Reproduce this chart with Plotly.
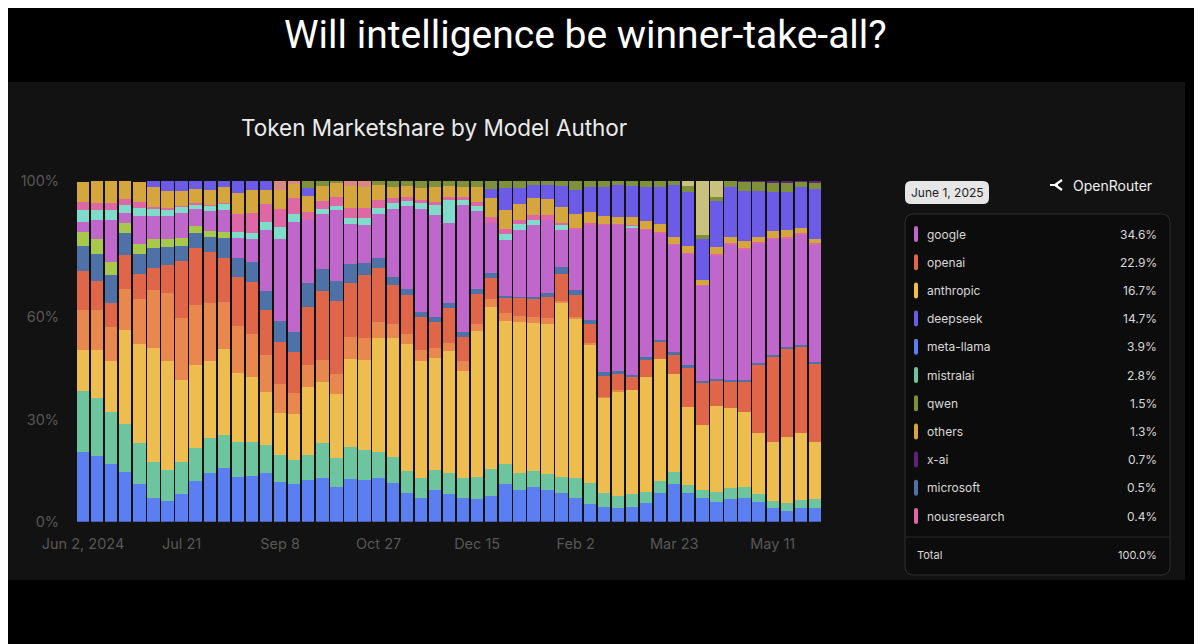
import plotly.graph_objects as go
import pandas as pd

# the page puts the figure 8px in from the top-left corner
PAGE_OFF = 8
W, H = 1202 - PAGE_OFF, 644 - PAGE_OFF

# weekly buckets, Jun 2 2024 .. Jun 1 2025
weeks = pd.date_range("2024-06-02", periods=53, freq="7D")
tick_labels = ["Jun 2, 2024", "Jul 21", "Sep 8", "Oct 27", "Dec 15", "Feb 2", "Mar 23", "May 11"]
y_ticks = [0, 30, 60, 100]

# token share per author (%), bottom of stack first
meta_llama = [20.4, 19.3, 16.8, 14.7, 11.0, 7.0, 6.1, 8.0, 11.9, 14.4, 15.9, 13.2, 13.4, 14.2, 11.7, 11.0, 12.2, 12.9,
              10.3, 12.5, 12.2, 12.7, 11.3, 8.3, 7.0, 9.3, 8.0, 7.0, 6.7, 7.5, 11.0, 9.3, 10.3, 9.3, 8.3, 7.0, 5.1, 4.4,
              4.1, 4.4, 5.4, 8.3, 11.0, 8.3, 7.0, 5.7, 6.7, 7.0, 5.7, 3.9, 3.1, 3.9, 3.9]
mistralai = [18.0, 17.1, 15.3, 13.9, 12.2, 10.4, 9.1, 9.4, 9.8, 10.3, 9.6, 10.3, 10.1, 8.3, 7.8, 7.1, 7.5, 10.1,
             8.5, 9.5, 8.8, 7.8, 7.8, 6.6, 5.7, 5.9, 6.2, 5.9, 6.3, 7.9, 5.9, 4.9, 4.6, 4.6, 4.9, 5.9, 6.2, 3.9,
             3.5, 3.6, 3.4, 3.6, 3.5, 2.6, 2.3, 2.9, 3.1, 3.2, 2.3, 2.2, 2.3, 2.4, 2.8]
anthropic = [12.0, 14.0, 15.2, 27.7, 28.9, 33.6, 31.9, 24.2, 24.3, 22.5, 25.2, 20.1, 19.1, 15.7, 12.5, 13.4, 19.9, 18.1,
             18.6, 25.9, 26.6, 33.5, 34.9, 37.2, 34.4, 32.8, 35.9, 31.3, 43.1, 47.7, 42.1, 44.3, 43.3, 44.0, 51.0, 46.8,
             40.8, 28.1, 30.7, 30.6, 33.8, 36.0, 28.8, 22.8, 19.1, 25.4, 23.7, 22.0, 17.9, 17.4, 19.6, 19.6, 16.7]
unlisted_orange = [11.7, 11.7, 9.8, 11.9, 13.3, 17.0, 19.9, 18.1, 17.6, 16.9, 13.9, 13.7, 12.4, 10.8, 8.5, 6.2, 6.4,
                   6.4, 5.9, 6.4, 6.2, 4.7, 3.9, 2.9, 3.2, 2.9, 2.3, 2.9, 1.8, 2.3, 2.3, 2.0, 2.0, 1.8, 0.6, 0.5, 0.3,
                   0.3, 0.3, 0, 0, 0, 0, 0, 0, 0, 0, 0, 0, 0, 0, 0, 0]
openai = [11.4, 8.5, 7.2, 10.1, 7.3, 6.5, 8.3, 16.8, 16.6, 15.2, 12.9, 14.4, 15.5, 13.2, 12.2, 12.0, 17.1, 20.1, 21.5,
          15.7, 18.6, 15.9, 11.5, 11.5, 9.8, 7.8, 10.3, 7.1, 8.8, 6.1, 4.6, 5.3, 5.4, 6.4, 7.8, 6.4, 5.7, 6.2, 4.7, 3.9,
          4.9, 4.9, 5.7, 11.7, 12.5, 7.5, 7.4, 8.8, 20.1, 25.0, 25.7, 25.4, 22.9]
microsoft = [7.3, 8.1, 8.1, 6.4, 5.8, 5.8, 5.4, 4.5, 4.4, 4.2, 5.7, 5.7, 5.7, 5.4, 6.1, 6.1, 7.1, 6.7, 5.9, 5.6, 3.4,
             2.7, 2.4, 1.7, 1.5, 1.5, 1.5, 1.5, 1.5, 1.5, 0.3, 0.3, 0.5, 1.0, 2.2, 1.3, 1.2, 1.0, 1.0, 0.7, 0.7, 0.5,
             0.7, 0.5, 0.4, 0.5, 0.7, 0.7, 0.5, 0.5, 0.5, 0.5, 0.5]
unlisted_lime = [4.1, 4.2, 3.7, 3.1, 3.0, 2.7, 2.2, 2.3, 2.3, 1.9, 1.8, 0, 0, 0, 0, 0, 0, 0, 0, 0, 0, 0, 0, 0, 0, 0,
                 0, 0, 0, 0, 0, 0, 0, 0, 0, 0, 0, 0, 0, 0, 0, 0, 0, 0, 0, 0, 0, 0, 0, 0, 0, 0, 0]
google = [3.2, 5.8, 12.6, 2.7, 8.2, 6.6, 6.8, 7.4, 4.8, 5.7, 6.6, 5.9, 6.8, 18.1, 24.1, 32.3, 18.3, 16.0, 20.8, 11.7,
          11.4, 12.9, 20.1, 24.6, 30.3, 29.8, 23.5, 37.2, 23.0, 14.7, 16.6, 19.6, 21.0, 21.5, 10.8, 17.8, 27.8, 43.3,
          42.9, 43.2, 37.5, 31.3, 31.6, 32.8, 27.9, 36.2, 39.8, 38.3, 35.2, 34.1, 32.0, 32.5, 34.6]
unlisted_cyan = [3.4, 2.9, 2.9, 2.6, 2.4, 2.3, 1.8, 1.7, 1.5, 1.7, 1.7, 1.8, 1.7, 2.4, 3.6, 2.2, 0, 1.5, 1.3, 1.8,
                 2.0, 1.8, 1.5, 1.4, 1.5, 2.9, 6.6, 1.5, 1.5, 0, 1.5, 1.7, 1.5, 0, 1.5, 0, 0, 0, 0, 0.4, 0, 0, 0, 0,
                 0, 0, 0, 0, 0, 0, 0, 0, 0]
nousresearch = [2.4, 2.0, 2.0, 1.5, 1.8, 0.5, 0.5, 0.3, 0.3, 0.3, 0.3, 5.1, 5.9, 5.1, 5.4, 4.7, 2.4, 2.4, 2.6, 3.1,
                2.9, 2.4, 1.5, 1.0, 1.0, 1.0, 1.0, 1.0, 1.0, 1.7, 1.5, 1.3, 1.5, 1.5, 0.5, 0.5, 0.5, 0.3, 0.3, 0.3,
                0.3, 0.3, 0.3, 0.3, 0.3, 0.3, 0.3, 0.3, 0.3, 0.3, 0.3, 0.3, 0.4]
others = [5.9, 6.4, 6.4, 5.4, 5.9, 5.9, 5.1, 4.4, 4.2, 4.2, 4.5, 6.4, 6.8, 4.2, 5.4, 4.1, 4.7, 4.2, 3.9, 6.2, 6.2,
          4.4, 3.4, 3.2, 3.6, 4.4, 3.2, 2.9, 4.4, 5.5, 5.6, 4.6, 4.9, 4.7, 4.9, 4.1, 3.2, 2.3, 2.0, 2.4, 2.4, 2.4,
          2.0, 2.0, 1.5, 2.2, 2.0, 2.2, 1.7, 2.0, 2.0, 1.6, 1.3]
deepseek = [0, 0, 0, 0, 0, 1.7, 2.9, 3.1, 2.6, 3.1, 2.3, 3.6, 2.6, 2.6, 0, 0, 2.3, 0, 0, 0, 0, 0, 0, 0, 0, 0, 0, 0,
            0, 2.9, 6.5, 4.7, 3.9, 4.1, 5.9, 7.1, 7.5, 8.5, 9.3, 9.1, 9.8, 10.8, 15.2, 15.7, 12.0, 13.3, 14.5, 14.5,
            13.3, 11.4, 11.3, 12.1, 14.7]
unlisted_salmon = [0, 0, 0, 0, 0, 0, 0, 0, 0, 0, 0, 0, 0, 0, 2.6, 1.0, 0, 0, 0, 1.7, 1.7, 0, 0, 0, 0, 0, 0, 0, 0, 0,
                   0, 0, 0, 0, 0, 0, 0, 0, 0, 0, 0, 0, 0, 0, 0, 0, 0, 0, 0, 0, 0, 0, 0]
qwen = [0, 0, 0, 0, 0, 0, 0, 0, 0, 0, 0, 0, 0, 0, 0, 0, 2.0, 1.7, 0.7, 0, 0, 1.2, 1.7, 1.7, 2.0, 1.7, 1.7, 1.7, 2.2,
        2.3, 2.3, 2.2, 1.2, 1.2, 1.7, 2.6, 1.7, 1.7, 1.2, 1.7, 2.2, 2.2, 1.7, 1.7, 1.2, 1.4, 2.0, 2.9, 2.9, 2.9, 2.9,
        1.6, 1.5]
unlisted_khaki = [0, 0, 0, 0, 0, 0, 0, 0, 0, 0, 0, 0, 0, 0, 0, 0, 0, 0, 0, 0, 0, 0, 0, 0, 0, 0, 0, 0, 0, 0, 0, 0,
                  0, 0, 0, 0, 0, 0, 0, 0, 0, 0, 0, 2.0, 16.1, 4.9, 0, 0, 0, 0, 0, 0, 0]
x_ai = [0, 0, 0, 0, 0, 0, 0, 0, 0, 0, 0, 0, 0, 0, 0, 0, 0, 0, 0, 0, 0, 0, 0, 0, 0, 0, 0, 0, 0, 0, 0, 0, 0, 0, 0, 0,
        0, 0, 0, 0, 0, 0, 0, 0, 0, 0, 0.3, 0.4, 0.4, 0.5, 0.5, 0.4, 0.7]

# stack order (bottom -> top): name, values, colour, shown in the side panel
stack = [
    ("meta-llama", meta_llama, "#5b7ff0", True),
    ("mistralai", mistralai, "#6cc59e", True),
    ("anthropic", anthropic, "#eebd4f", True),
    ("unlisted (orange)", unlisted_orange, "#e8884f", False),
    ("openai", openai, "#e0664a", True),
    ("microsoft", microsoft, "#4e72a8", True),
    ("unlisted (lime)", unlisted_lime, "#a8c84c", False),
    ("google", google, "#c067cb", True),
    ("unlisted (cyan)", unlisted_cyan, "#7fdbca", False),
    ("nousresearch", nousresearch, "#de68a6", True),
    ("others", others, "#d4a63d", True),
    ("deepseek", deepseek, "#6b5be6", True),
    ("unlisted (salmon)", unlisted_salmon, "#d98984", False),
    ("qwen", qwen, "#7e913a", True),
    ("unlisted (khaki)", unlisted_khaki, "#c8c27d", False),
    ("x-ai", x_ai, "#5c2379", True),
]

fig = go.Figure()
for name, vals, color, _ in stack:
    fig.add_trace(go.Bar(x=weeks, y=vals, name=name, marker_color=color,
                         marker_line_width=0, showlegend=False))


# screen pixel -> paper fraction
def px(x):
    return (x - PAGE_OFF) / W


def py(y):
    return 1 - (y - PAGE_OFF) / H


def rounded_rect(x0, y0, x1, y1, r):
    pts = [
        f"M {px(x0 + r)},{py(y0)}",
        f"L {px(x1 - r)},{py(y0)}",
        f"Q {px(x1)},{py(y0)} {px(x1)},{py(y0 + r)}",
        f"L {px(x1)},{py(y1 - r)}",
        f"Q {px(x1)},{py(y1)} {px(x1 - r)},{py(y1)}",
        f"L {px(x0 + r)},{py(y1)}",
        f"Q {px(x0)},{py(y1)} {px(x0)},{py(y1 - r)}",
        f"L {px(x0)},{py(y0 + r)}",
        f"Q {px(x0)},{py(y0)} {px(x0 + r)},{py(y0)}",
        "Z",
    ]
    return " ".join(pts)


def label(text, x, y, size, color, anchor="center", family="Inter"):
    return dict(text=text, x=px(x), y=py(y), xref="paper", yref="paper", xanchor=anchor, yanchor="middle",
                showarrow=False, font=dict(size=size, color=color, family=family))


shapes = []
annotations = []

# dark card behind the chart
shapes.append(dict(type="rect", xref="paper", yref="paper", x0=px(0), x1=px(1185), y0=py(580), y1=py(82),
                   fillcolor="#121212", line_width=0, layer="below"))

# side panel box
shapes.append(dict(type="path", xref="paper", yref="paper", path=rounded_rect(905, 214, 1170, 575, 9),
                   fillcolor="#0c0c0c", line=dict(color="#2e2e2e", width=1), layer="below"))
shapes.append(dict(type="line", xref="paper", yref="paper", x0=px(906), x1=px(1169), y0=py(537), y1=py(537),
                   line=dict(color="#262626", width=1), layer="below"))

# date pill
shapes.append(dict(type="path", xref="paper", yref="paper", path=rounded_rect(905, 181, 989, 204, 6),
                   fillcolor="#e6e6e6", line_width=0, layer="below"))
annotations.append(label("June 1, 2025", 947, 192.5, 12, "#1e1e1e"))

# OpenRouter mark
shapes.append(dict(type="path", xref="paper", yref="paper",
                   path=f"M {px(1062)},{py(180)} L {px(1055)},{py(185)} L {px(1062)},{py(190)} "
                        f"M {px(1050)},{py(185)} L {px(1058)},{py(185)}",
                   line=dict(color="#ffffff", width=2.2)))
annotations.append(label("OpenRouter", 1071, 185, 14, "#f0f0f0", anchor="left"))

# side panel rows: authors present in the last week, largest first
last = [(name, vals[-1], color) for name, vals, color, shown in stack if shown and vals[-1] > 0]
last.sort(key=lambda r: -r[1])
row_y0, row_step = 234, 28.2
for i, (name, val, color) in enumerate(last):
    yc = row_y0 + i * row_step
    shapes.append(dict(type="path", xref="paper", yref="paper",
                       path=rounded_rect(914, yc - 8, 918, yc + 8, 2), fillcolor=color, line_width=0))
    annotations.append(label(name, 925, yc, 12, "#d8d8d8", anchor="left"))
    annotations.append(label(f"{val:.1f}%", 1159, yc, 12, "#d8d8d8", anchor="right"))

total = sum(vals[-1] for _, vals, _, _ in stack)
annotations.append(label("Total", 915, 555, 11, "#d8d8d8", anchor="left"))
annotations.append(label(f"{total:.1f}%", 1159, 555, 11, "#d8d8d8", anchor="right"))

# headings
annotations.append(label("Will intelligence be winner-take-all?", 585, 35, 39, "#ffffff", family="Roboto"))
annotations.append(label("Token Marketshare by Model Author", 434, 127, 22.5, "#ececec"))

half_week = pd.Timedelta(hours=84)
fig.update_layout(
    barmode="stack",
    bargap=0.12,
    width=W,
    height=H,
    margin=dict(l=0, r=0, t=0, b=0, pad=0),
    paper_bgcolor="#000000",
    plot_bgcolor="rgba(0,0,0,0)",
    font=dict(family="Inter"),
    shapes=shapes,
    annotations=annotations,
    xaxis=dict(
        domain=[px(76), px(822)],
        range=[str(weeks[0] - half_week), str(weeks[-1] + half_week)],
        tickvals=list(weeks[::7]),
        ticktext=tick_labels,
        automargin=False,
        showgrid=False, zeroline=False, showline=False,
        ticks="outside", ticklen=9, tickcolor="rgba(0,0,0,0)",
        tickfont=dict(size=14.5, color="#575757"),
    ),
    yaxis=dict(
        domain=[py(521.7), py(181)],
        range=[0, 100],
        tickvals=y_ticks,
        ticktext=[f"{v}%" for v in y_ticks],
        automargin=False,
        showgrid=False, zeroline=False, showline=False,
        ticks="outside", ticklen=13, tickcolor="rgba(0,0,0,0)",
        tickfont=dict(size=14.5, color="#575757"),
    ),
)

fig.write_html("out.html")
